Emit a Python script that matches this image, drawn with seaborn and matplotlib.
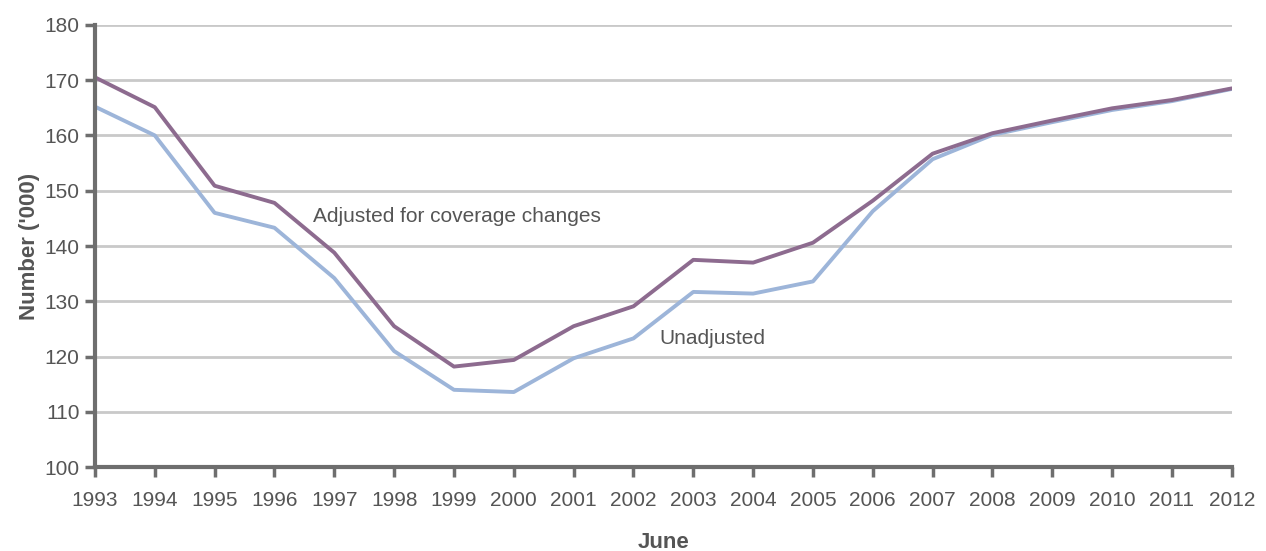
import matplotlib
matplotlib.use("Agg")
import matplotlib.pyplot as plt
import seaborn as sns
import pandas as pd

years = list(range(1993, 2013))
adjusted = [170.5, 165.1, 150.9, 147.8, 138.8, 125.5, 118.2, 119.4, 125.5, 129.1,
            137.5, 137.0, 140.6, 148.2, 156.7, 160.4, 162.7, 164.9, 166.4, 168.5]
unadjusted = [165.2, 160.0, 146.0, 143.3, 134.2, 121.0, 114.0, 113.6, 119.7, 123.3,
              131.7, 131.4, 133.6, 146.3, 155.7, 160.1, 162.4, 164.6, 166.2, 168.4]
series_names = ["Adjusted for coverage changes", "Unadjusted"]
y_ticks = [100, 110, 120, 130, 140, 150, 160, 170, 180]

df = pd.DataFrame({
    "year": years * 2,
    "value": adjusted + unadjusted,
    "series": [series_names[0]] * len(years) + [series_names[1]] * len(years),
})

sns.set_theme(style="white")
plt.rcParams["font.family"] = ["Liberation Sans Narrow", "Liberation Sans", "DejaVu Sans"]

fig = plt.figure(figsize=(12.66, 5.51), dpi=100)
ax = fig.add_axes([0.075, 0.152, 0.898, 0.803])

for y in y_ticks[1:]:
    ax.axhline(y, color="#c9c9c9", lw=2.0, zorder=0)

sns.lineplot(data=df, x="year", y="value", hue="series",
             palette={series_names[0]: "#8d6b8f", series_names[1]: "#9db5d9"},
             hue_order=[series_names[1], series_names[0]],
             lw=2.8, ax=ax, legend=False)

ax.set_xlim(1993, 2012)
ax.set_ylim(100, 180)
ax.set_xticks(years)
ax.set_xticklabels([str(y) for y in years])
ax.set_yticks(y_ticks)

for s in ["top", "right"]:
    ax.spines[s].set_visible(False)
for s in ["left", "bottom"]:
    ax.spines[s].set_color("#6e6e6e")
    ax.spines[s].set_linewidth(3)
ax.spines["bottom"].set_zorder(5)

ax.tick_params(axis="both", which="major", direction="out", length=7, width=2.5,
               color="#6e6e6e", labelcolor="#555555", labelsize=15)
ax.tick_params(axis="x", bottom=True, pad=10)
ax.tick_params(axis="y", left=True, pad=4)

ax.set_xlabel("June", fontsize=16, fontweight="bold", color="#555555", labelpad=16)
ax.set_ylabel("Number ('000)", fontsize=16, fontweight="bold", color="#555555", labelpad=3)

ax.text(1996.64, 145.4, series_names[0], fontsize=15, color="#555555", ha="left", va="center")
ax.text(2002.44, 123.3, series_names[1], fontsize=15, color="#555555", ha="left", va="center")

fig.savefig("out.png", dpi=100)
